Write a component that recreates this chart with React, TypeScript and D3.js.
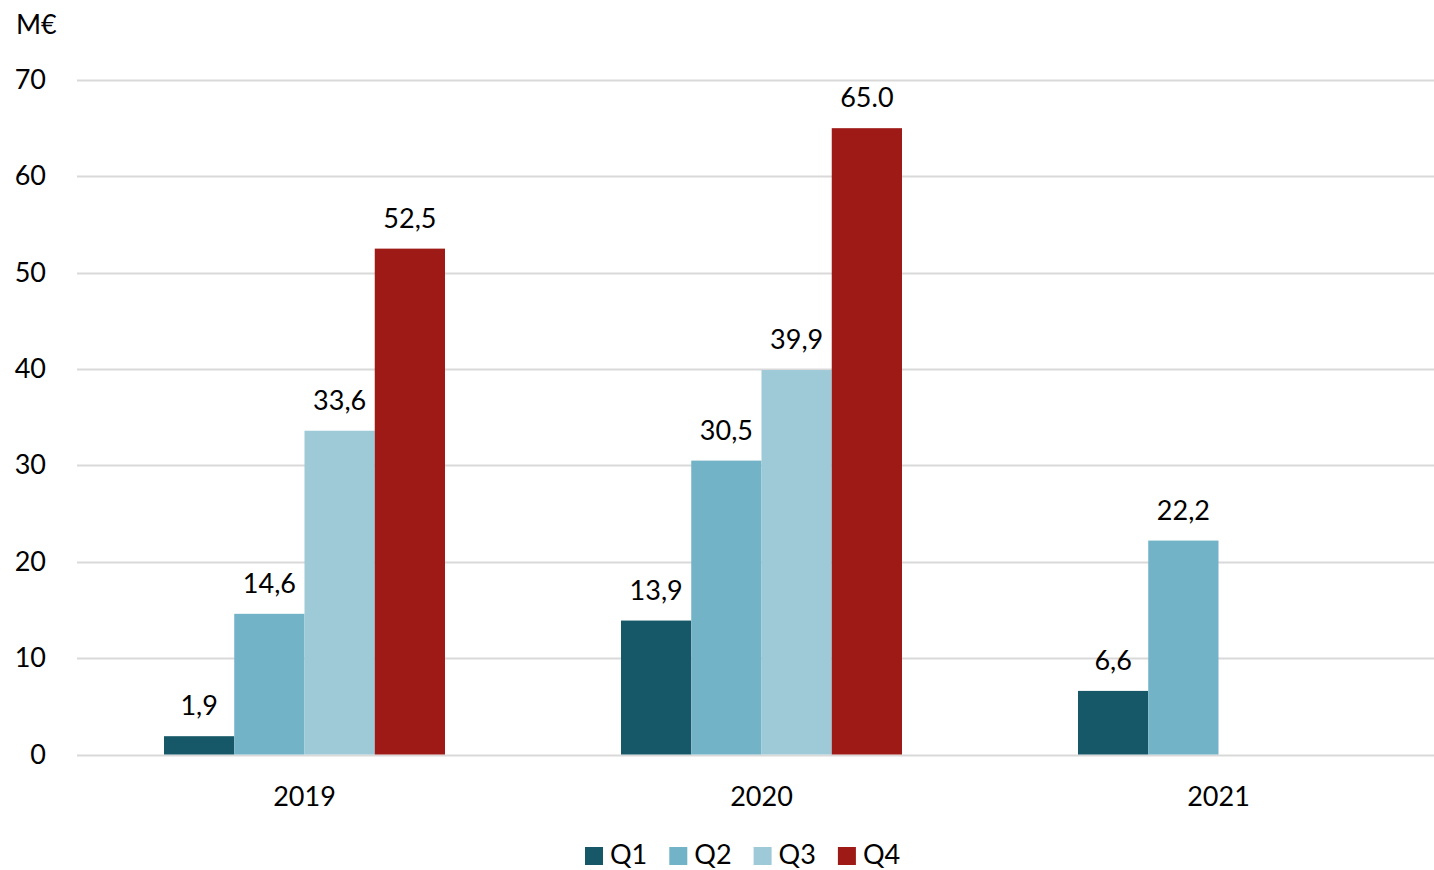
import React from "react";
import * as d3 from "d3";

const years = ["2019", "2020", "2021"];
const quarters = ["Q1", "Q2", "Q3", "Q4"];
const colors = ["#175868", "#73B3C7", "#9ECAD8", "#9E1A16"];
const q1 = [1.9, 13.9, 6.6];
const q2 = [14.6, 30.5, 22.2];
const q3 = [33.6, 39.9, null];
const q4 = [52.5, 65.0, null];
const q1Labels = ["1,9", "13,9", "6,6"];
const q2Labels = ["14,6", "30,5", "22,2"];
const q3Labels = ["33,6", "39,9", ""];
const q4Labels = ["52,5", "65.0", ""];
const yTicks = [0, 10, 20, 30, 40, 50, 60, 70];
const unitLabel = "M€";

const series = [q1, q2, q3, q4];
const seriesLabels = [q1Labels, q2Labels, q3Labels, q4Labels];

export default function App() {
  const W = 1434, H = 870;
  const font = "Lato, 'Open Sans', sans-serif";
  const fs = 27;
  const x0 = d3.scaleBand<string>().domain(years).range([76, 76 + 3 * 457]).paddingInner(0).paddingOuter(0);
  const groupW = 281;
  const x1 = d3.scaleBand<string>().domain(quarters).range([0, groupW]);
  const y = d3.scaleLinear().domain([0, 70]).range([754.5, 80]);
  return (
    <svg width={W} height={H} style={{ position: "absolute", left: 0, top: 0, background: "#fff" }} fontFamily={font}>
      <text x={16} y={34} fontSize={fs} fill="#000">{unitLabel}</text>
      {yTicks.map((t) => (
        <g key={t}>
          <line x1={77} x2={W} y1={Math.round(y(t)) + 0.5} y2={Math.round(y(t)) + 0.5} stroke="#d9d9d9" strokeWidth={2} />
          <text x={46} y={y(t) + 9} fontSize={fs} textAnchor="end" fill="#000">{t}</text>
        </g>
      ))}
      {years.map((yr, i) => {
        const cx = x0(yr)! + x0.bandwidth() / 2;
        const gx = cx - groupW / 2;
        return (
          <g key={yr}>
            {series.map((s, k) => {
              const v = s[i];
              if (v == null) return null;
              const bx = gx + x1(quarters[k])!;
              return (
                <g key={k}>
                  <rect x={bx} y={y(v)} width={x1.bandwidth()} height={y(0) - y(v)} fill={colors[k]} />
                  <text x={bx + x1.bandwidth() / 2} y={y(v) - 21} fontSize={fs} textAnchor="middle" fill="#000">
                    {seriesLabels[k][i]}
                  </text>
                </g>
              );
            })}
            <text x={cx} y={806} fontSize={fs} textAnchor="middle" fill="#000">{yr}</text>
          </g>
        );
      })}
      {quarters.map((q, k) => {
        const lx = 585 + k * 84.3;
        return (
          <g key={q}>
            <rect x={lx} y={847} width={18} height={18} fill={colors[k]} />
            <text x={lx + 25} y={864} fontSize={fs} fill="#000">{q}</text>
          </g>
        );
      })}
    </svg>
  );
}
